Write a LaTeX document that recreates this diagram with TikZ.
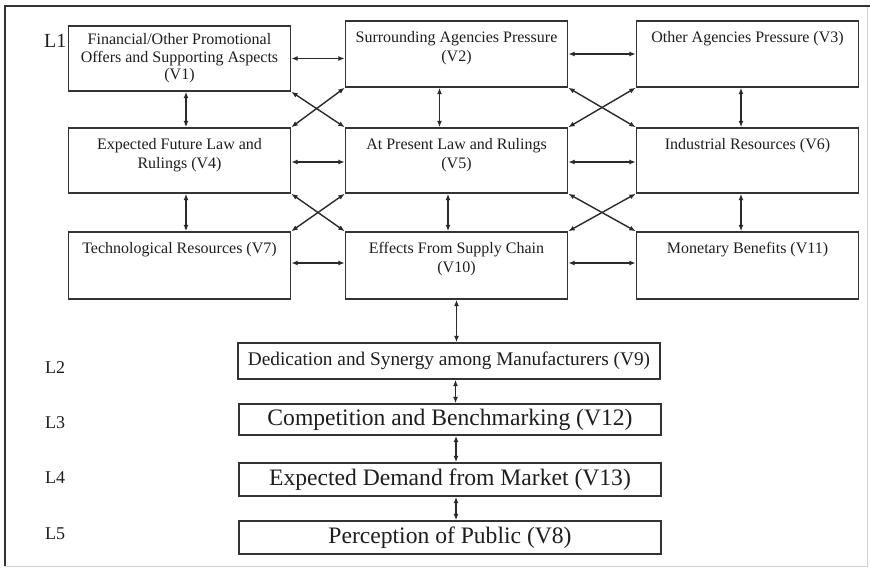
\documentclass[tikz,border=0pt]{standalone}
\usepackage{fontspec}
\setmainfont{Liberation Serif}
\usetikzlibrary{arrows.meta,calc}
\definecolor{boxc}{HTML}{333333}
\definecolor{txtc}{HTML}{1E1E1E}
\definecolor{arrc}{HTML}{2A2A2A}
\begin{document}
\begin{tikzpicture}[x=1pt,y=-1pt,
  box/.style={draw=boxc,line width=1.4pt,inner sep=0pt,minimum width=222pt,minimum height=66pt},
  lowbox/.style={draw=boxc,line width=1.4pt,inner sep=0pt,minimum width=422pt,text=txtc},
  txt/.style={anchor=north,yshift=-11pt,align=center,inner sep=0pt,text=txtc,font=\fontsize{16}{19}\selectfont},
  lvl/.style={anchor=base west,inner sep=0pt,text=txtc,font=\fontsize{18}{20}\selectfont},
  arr/.style={{Latex[length=6.5pt,width=5pt]}-{Latex[length=6.5pt,width=5pt]},line width=1.4pt,draw=arrc}
]
\useasboundingbox (0,0) rectangle (870,568);
\fill[white] (0,0) rectangle (870,568);
% frame
\draw[gray!35,line width=1pt] (867,6) -- (867,566) -- (5,566);
\draw[black!80,line width=1.4pt] (5,566) -- (5,6) -- (870,6);

% upper boxes
\node[box,minimum height=65pt] (v1) at (179.5,58.5) {};
\node[box] (v2) at (456.5,54) {};
\node[box] (v3) at (747.5,54) {};
\node[box,minimum height=65pt] (v4) at (179.5,160.5) {};
\node[box,minimum height=65pt] (v5) at (456.5,160.5) {};
\node[box,minimum height=65pt] (v6) at (747.5,160.5) {};
\node[box,minimum height=67pt] (v7) at (179.5,265.5) {};
\node[box,minimum height=67pt] (v10) at (456.5,265.5) {};
\node[box,minimum height=67pt] (v11) at (747.5,265.5) {};

\node[txt,yshift=3pt,font=\fontsize{16}{17.5}\selectfont] (t1) at (v1.north) {Financial/Other Promotional\\Offers and Supporting Aspects\\(V1)};
\node[txt] (t2) at (v2.north) {Surrounding Agencies Pressure\\(V2)};
\node[txt] (t3) at (v3.north) {Other Agencies Pressure (V3)};
\node[txt] (t4) at (v4.north) {Expected Future Law and\\Rulings (V4)};
\node[txt] (t5) at (v5.north) {At Present Law and Rulings\\(V5)};
\node[txt] (t6) at (v6.north) {Industrial Resources (V6)};
\node[txt] (t7) at (v7.north) {Technological Resources (V7)};
\node[txt] (t10) at (v10.north) {Effects From Supply Chain\\(V10)};
\node[txt] (t11) at (v11.north) {Monetary Benefits (V11)};

% lower boxes
\node[lowbox,minimum height=36pt,font=\fontsize{19.3}{22}\selectfont] (v9) at (449,361) {Dedication and Synergy among Manufacturers (V9)};
\node[lowbox,minimum height=31pt,font=\fontsize{23.6}{26}\selectfont] (v12) at (450,419.5) {Competition and Benchmarking (V12)};
\node[lowbox,minimum height=33pt,font=\fontsize{23.6}{26}\selectfont] (v13) at (450,479.5) {Expected Demand from Market (V13)};
\node[lowbox,minimum height=33pt,font=\fontsize{23.6}{26}\selectfont] (v8) at (450,537.5) {Perception of Public (V8)};

% level labels
\node[lvl,font=\fontsize{20}{22}\selectfont] (l1) at (44,47) {L1};
\node[lvl] (l2) at (45,373) {L2};
\node[lvl] (l3) at (45,428) {L3};
\node[lvl] (l4) at (45,483) {L4};
\node[lvl] (l5) at (45,539) {L5};

% horizontal arrows
\draw[arr] (v1.east) -- (v1.east -| v2.west);
\draw[arr] (v2.east) -- (v2.east -| v3.west);
\draw[arr] ([yshift=-1.5pt]v4.east) -- ([yshift=-1.5pt]v4.east -| v5.west);
\draw[arr] ([yshift=-1.5pt]v5.east) -- ([yshift=-1.5pt]v5.east -| v6.west);
\draw[arr] ([yshift=2.5pt]v7.east) -- ([yshift=2.5pt]v7.east -| v10.west);
\draw[arr] ([yshift=2.5pt]v10.east) -- ([yshift=2.5pt]v10.east -| v11.west);

% vertical arrows
\draw[arr] ([xshift=6.5pt]v1.south) -- ([xshift=6.5pt]v1.south |- v4.north);
\draw[arr] ([xshift=-17pt]v2.south) -- ([xshift=-17pt]v2.south |- v5.north);
\draw[arr] ([xshift=-6.5pt]v3.south) -- ([xshift=-6.5pt]v3.south |- v6.north);
\draw[arr] ([xshift=6.5pt]v4.south) -- ([xshift=6.5pt]v4.south |- v7.north);
\draw[arr] ([xshift=-8.5pt]v5.south) -- ([xshift=-8.5pt]v5.south |- v10.north);
\draw[arr] ([xshift=-6.5pt]v6.south) -- ([xshift=-6.5pt]v6.south |- v11.north);
\draw[arr] (v10.south) -- (v10.south |- v9.north);
\draw[arr] ([xshift=6.5pt]v9.south) -- ([xshift=6.5pt]v9.south |- v12.north);
\draw[arr] ([xshift=6pt]v12.south) -- ([xshift=6pt]v12.south |- v13.north);
\draw[arr] ([xshift=6pt]v13.south) -- ([xshift=6pt]v13.south |- v8.north);

% diagonal arrows
\draw[arr] (v1.south east) -- (v5.north west);
\draw[arr] (v4.north east) -- (v2.south west);
\draw[arr] (v2.south east) -- (v6.north west);
\draw[arr] (v5.north east) -- (v3.south west);
\draw[arr] (v4.south east) -- (v10.north west);
\draw[arr] (v7.north east) -- (v5.south west);
\draw[arr] (v5.south east) -- (v11.north west);
\draw[arr] (v10.north east) -- (v6.south west);
\end{tikzpicture}
\end{document}
